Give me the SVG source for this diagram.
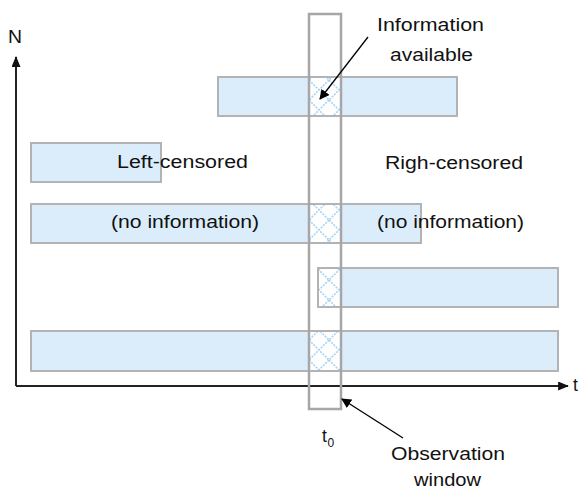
<svg xmlns="http://www.w3.org/2000/svg" width="584" height="491" viewBox="0 0 584 491">
  <style>
    .bar { fill: #dbedfb; stroke: #b3b3b3; stroke-width: 2; }
    .hatch { fill: url(#cross); }
    .win { fill: none; stroke: #a6a6a6; stroke-width: 2.5; }
    .axis { stroke: #222; stroke-width: 2; fill: none; }
    .ptr { stroke: #000; stroke-width: 1.3; fill: none; }
    .lbl { font-family: "Liberation Sans", Arial, sans-serif; font-size: 17.5px; fill: #111; }
  </style>
  <defs>
    <pattern id="cross" patternUnits="userSpaceOnUse" x="309" y="0" width="20" height="20">
      <rect width="20" height="20" fill="#fff"/>
      <path d="M0,0 L20,20 M20,0 L0,20" stroke="#a6d3f3" stroke-width="1.6" stroke-dasharray="2,1.2"/>
    </pattern>
    <marker id="head" viewBox="0 0 10 10" refX="9" refY="5" markerWidth="10" markerHeight="10" markerUnits="userSpaceOnUse" orient="auto">
      <path d="M0,0 L10,5 L0,10 z" fill="#000"/>
    </marker>
    <marker id="axhead" viewBox="0 0 12 10" refX="11" refY="5" markerWidth="12" markerHeight="9" markerUnits="userSpaceOnUse" orient="auto">
      <path d="M0,0 L12,5 L0,10 z" fill="#111"/>
    </marker>
  </defs>

  <!-- axes -->
  <g id="axes">
    <path class="axis" d="M16,386 L16,57" marker-end="url(#axhead)"/>
    <path class="axis" d="M16,386 L568,386" marker-end="url(#axhead)"/>
    <text class="lbl" x="8" y="43" textLength="14" lengthAdjust="spacingAndGlyphs">N</text>
    <text class="lbl" x="573" y="391">t</text>
  </g>

  <!-- individual observation periods -->
  <g id="bar1">
    <rect class="bar" x="218" y="77" width="239" height="39"/>
    <rect class="hatch" x="309" y="78" width="32" height="37"/>
  </g>
  <g id="bar2">
    <rect class="bar" x="31" y="143" width="130" height="39"/>
  </g>
  <g id="bar3">
    <rect class="bar" x="31" y="204" width="390" height="39"/>
    <rect class="hatch" x="309" y="205" width="32" height="37"/>
  </g>
  <g id="bar4">
    <rect class="bar" x="318" y="268" width="240" height="39"/>
    <rect class="hatch" x="319" y="269" width="22" height="37"/>
  </g>
  <g id="bar5">
    <rect class="bar" x="31" y="331" width="527" height="40"/>
    <rect class="hatch" x="309" y="332" width="32" height="38"/>
  </g>

  <!-- observation window around t0 -->
  <g id="window">
    <rect class="win" x="309" y="14" width="32" height="395"/>
    <text class="lbl" x="322" y="442">t</text>
    <text class="lbl" x="327.5" y="447" style="font-size:12px">0</text>
  </g>

  <!-- labels -->
  <g id="labels">
    <text class="lbl" x="377" y="31" textLength="107" lengthAdjust="spacingAndGlyphs">Information</text>
    <text class="lbl" x="390" y="61" textLength="83" lengthAdjust="spacingAndGlyphs">available</text>
    <text class="lbl" x="117" y="168" textLength="131" lengthAdjust="spacingAndGlyphs">Left-censored</text>
    <text class="lbl" x="385" y="169" textLength="138" lengthAdjust="spacingAndGlyphs">Righ-censored</text>
    <text class="lbl" x="111" y="228" textLength="148" lengthAdjust="spacingAndGlyphs">(no information)</text>
    <text class="lbl" x="377" y="228" textLength="147" lengthAdjust="spacingAndGlyphs">(no information)</text>
    <text class="lbl" x="391" y="460" textLength="114" lengthAdjust="spacingAndGlyphs">Observation</text>
    <text class="lbl" x="414" y="486" textLength="67" lengthAdjust="spacingAndGlyphs">window</text>
  </g>

  <!-- pointers -->
  <g id="connectors">
    <path class="ptr" d="M368,37 L320,99" marker-end="url(#head)"/>
    <path class="ptr" d="M403,438 L342,399" marker-end="url(#head)"/>
  </g>
</svg>
